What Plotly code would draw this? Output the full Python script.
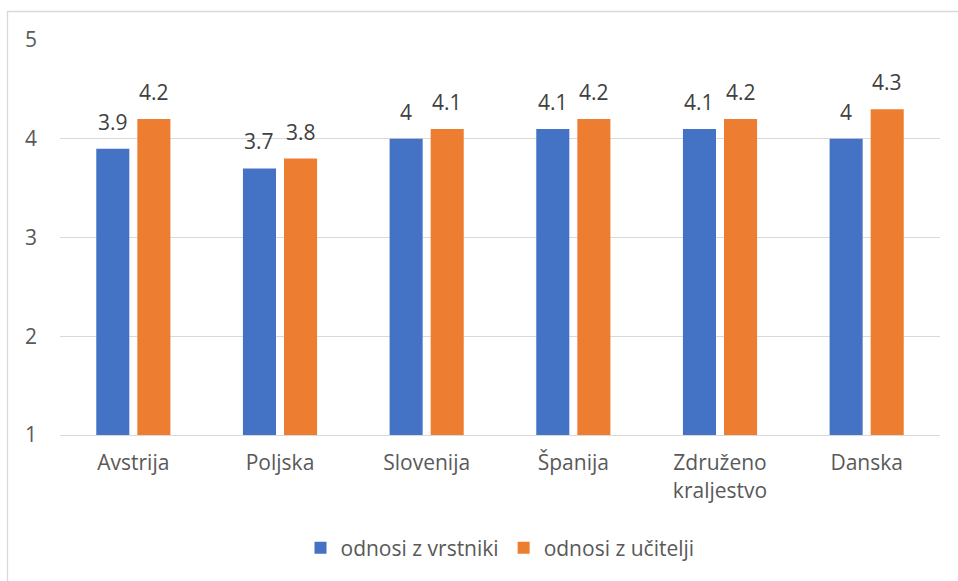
import plotly.graph_objects as go

categories = ["Avstrija", "Poljska", "Slovenija", "Španija", "Združeno<br>kraljestvo", "Danska"]
vrstniki = [3.9, 3.7, 4.0, 4.1, 4.1, 4.0]
ucitelji = [4.2, 3.8, 4.1, 4.2, 4.2, 4.3]
series_names = ["odnosi z vrstniki", "odnosi z učitelji"]
colors = ["#4472C4", "#ED7D31"]

FONT = "Open Sans"

def fmt(v):
    return f"{v:g}"

W, H = 958, 581
L, R, T, B = 60, 18, 40, 146
pw, ph = W - L - R, H - T - B

def px_x(x):
    return (x - L) / pw

def px_y(y):
    return 1 - (y - T) / ph

fig = go.Figure()
for name, vals, col in zip(series_names, [vrstniki, ucitelji], colors):
    fig.add_trace(go.Bar(
        x=categories, y=[v - 1 for v in vals], base=1, name=name,
        marker=dict(color=col, line=dict(width=0)),
        hoverinfo="skip",
    ))

cat_w = pw / len(categories)
slot = cat_w * (1 - 0.44) / 2
for i, vals in enumerate([vrstniki, ucitelji]):
    shift = (i - 0.5) * slot
    for c, v in zip(categories, vals):
        fig.add_annotation(x=c, y=v, text=fmt(v), showarrow=False,
                           xshift=shift, yshift=11, yanchor="bottom",
                           font=dict(family=FONT, size=21, color="#404040"))

fig.add_shape(type="rect", xref="paper", yref="paper",
              x0=px_x(7.5), x1=px_x(W + 20), y0=px_y(H + 20), y1=px_y(11.5),
              line=dict(color="#D9D9D9", width=1.3), fillcolor="rgba(0,0,0,0)", layer="below")

fig.update_layout(
    width=W, height=H,
    margin=dict(l=L, r=R, t=T, b=B, autoexpand=False),
    paper_bgcolor="white", plot_bgcolor="white",
    barmode="group", bargap=0.44, bargroupgap=0.195,
    font=dict(family=FONT, color="#595959", size=21),
    xaxis=dict(showgrid=False, showline=True, linecolor="#D9D9D9", linewidth=1.3,
               ticks="", ticklabelstandoff=9, automargin=False,
               tickfont=dict(family=FONT, size=21, color="#595959")),
    yaxis=dict(range=[1, 5], dtick=1, showgrid=True, gridcolor="#D9D9D9", gridwidth=1.3,
               zeroline=False, showline=False, ticks="", ticklabelstandoff=22, automargin=False,
               tickfont=dict(family=FONT, size=21, color="#595959")),
    legend=dict(orientation="h", x=0.5, xanchor="center", y=px_y(548), yanchor="middle",
                font=dict(family=FONT, size=21, color="#595959"),
                traceorder="normal"),
    showlegend=True,
)

fig.write_html("out.html", config={"displayModeBar": False},
               post_script="document.body.style.margin='0';")
